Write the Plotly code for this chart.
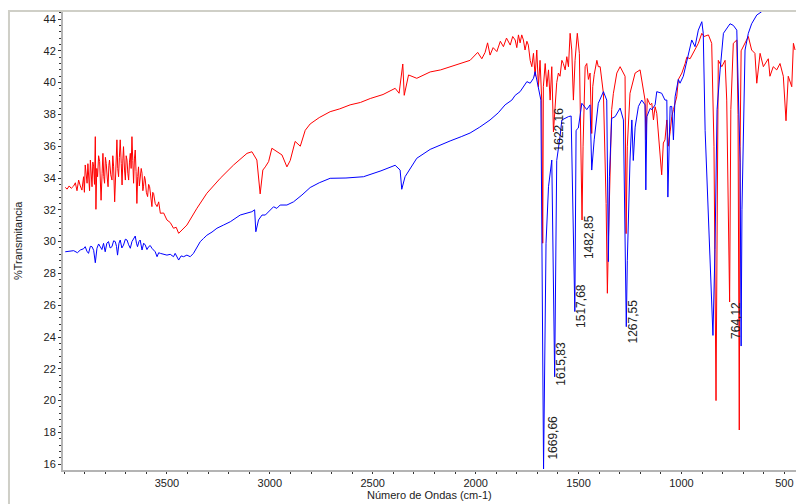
import plotly.graph_objects as go

# ---------------- data ----------------
red_wn = [3994, 3985, 3975, 3965, 3953, 3945, 3937, 3929, 3921, 3913, 3905, 3901, 3897, 3892, 3888, 3884,
          3881, 3876, 3872, 3868, 3864, 3860, 3856, 3852, 3848, 3845, 3841, 3837, 3832, 3827, 3820, 3815,
          3811, 3807, 3803, 3799, 3795, 3790, 3786, 3782, 3779, 3773, 3767, 3763, 3759, 3754, 3748, 3743,
          3739, 3735, 3731, 3727, 3722, 3718, 3714, 3711, 3706, 3702, 3698, 3694, 3690, 3686, 3682, 3678,
          3674, 3670, 3666, 3662, 3658, 3654, 3650, 3646, 3642, 3638, 3634, 3630, 3625, 3621, 3617, 3614,
          3609, 3605, 3600, 3594, 3589, 3584, 3578, 3573, 3569, 3565, 3557, 3548, 3540, 3532, 3516, 3500,
          3484, 3468, 3455, 3443, 3403, 3354, 3306, 3241, 3176, 3111, 3087, 3063, 3047, 3034, 3022, 3006,
          2990, 2966, 2941, 2917, 2901, 2877, 2852, 2828, 2804, 2760, 2707, 2660, 2610, 2560, 2512, 2450,
          2391, 2372, 2354, 2347, 2326, 2286, 2221, 2170, 2124, 2070, 2027, 1990, 1970, 1954, 1942, 1930,
          1915, 1897, 1880, 1865, 1850, 1832, 1820, 1808, 1800, 1792, 1784, 1776, 1768, 1760, 1751, 1744,
          1735, 1727, 1719, 1711, 1703, 1695, 1687, 1679, 1674, 1671, 1662, 1654, 1646, 1638, 1630, 1622,
          1614, 1606, 1598, 1590, 1581, 1574, 1565, 1557, 1549, 1541, 1533, 1525, 1517, 1506, 1496, 1488,
          1483, 1478, 1473, 1468, 1460, 1452, 1444, 1436, 1431, 1424, 1411, 1404, 1395, 1379, 1366, 1360,
          1355, 1347, 1339, 1331, 1314, 1298, 1282, 1274, 1269, 1263, 1250, 1241, 1225, 1201, 1177, 1172,
          1166, 1152, 1144, 1136, 1128, 1120, 1112, 1104, 1096, 1088, 1080, 1071, 1064, 1055, 1047, 1039,
          1023, 1015, 998, 982, 974, 958, 934, 918, 901, 890, 869, 853, 842, 832, 825, 821,
          804, 788, 780, 766, 760, 748, 731, 725, 719, 715, 710, 691, 675, 659, 643, 634,
          618, 602, 578, 570, 554, 537, 521, 505, 492, 481, 464, 456, 448]
red_t = [33.41, 33.30, 33.50, 33.35, 33.50, 33.70, 33.20, 33.87, 33.50, 33.24, 34.08, 33.10, 34.82, 33.90, 33.67, 34.90,
         34.40, 33.20, 35.13, 34.20, 33.45, 35.00, 34.70, 33.60, 36.60, 32.03, 34.60, 34.08, 35.40, 35.03, 32.60, 34.30,
         35.55, 34.10, 33.67, 35.30, 34.92, 34.00, 33.45, 34.80, 35.13, 34.20, 33.87, 35.40, 34.70, 32.50, 35.00, 36.40,
         34.60, 34.08, 35.30, 36.40, 34.90, 33.56, 35.20, 35.97, 34.50, 33.87, 35.40, 35.13, 34.30, 33.87, 35.00, 35.55,
         34.60, 36.60, 35.10, 33.67, 35.20, 35.76, 34.40, 32.40, 34.10, 34.70, 33.50, 33.87, 34.60, 34.30, 33.20, 33.45,
         34.10, 33.87, 33.10, 32.83, 33.60, 33.45, 32.70, 32.20, 33.10, 33.04, 32.40, 32.20, 32.50, 31.78, 31.80, 31.36,
         31.20, 30.84, 30.90, 30.52, 31.04, 32.10, 33.04, 33.98, 34.82, 35.55, 35.65, 35.13, 33.00, 34.50, 34.70, 35.03,
         35.87, 35.65, 35.45, 34.70, 35.10, 36.30, 36.00, 37.00, 37.40, 37.80, 38.17, 38.35, 38.60, 38.75, 39.00, 39.25,
         39.64, 39.33, 41.17, 39.20, 40.48, 40.27, 40.67, 40.80, 40.98, 41.20, 41.40, 41.90, 41.50, 41.90, 42.50, 41.73,
         42.20, 41.95, 42.60, 42.26, 42.80, 42.36, 42.90, 42.68, 42.20, 43.00, 42.50, 43.00, 42.68, 42.05, 42.60, 42.36,
         41.40, 41.00, 41.84, 40.40, 42.05, 39.74, 41.40, 38.90, 29.90, 39.74, 41.20, 39.74, 40.80, 38.90, 41.00, 36.90,
         38.70, 40.00, 40.60, 40.40, 41.40, 41.20, 40.80, 41.63, 41.00, 43.10, 42.05, 38.90, 41.40, 43.10, 41.84, 35.00,
         31.36, 36.00, 38.70, 41.00, 41.20, 40.20, 40.60, 36.80, 39.74, 40.50, 41.40, 41.00, 41.00, 39.30, 32.40, 26.75,
         30.00, 35.10, 38.30, 39.30, 40.60, 41.00, 40.60, 40.40, 30.50, 36.00, 39.33, 39.74, 40.60, 40.80, 38.90, 36.40,
         39.00, 38.60, 38.70, 37.65, 38.48, 38.07, 36.80, 35.55, 34.20, 36.20, 36.40, 37.65, 36.00, 36.90, 37.86, 38.30,
         39.10, 40.20, 40.60, 41.20, 41.60, 41.50, 42.05, 42.47, 43.10, 42.90, 43.00, 42.47, 36.00, 20.00, 34.00, 41.40,
         41.00, 41.40, 38.90, 26.20, 38.30, 42.47, 42.68, 38.00, 18.15, 36.00, 42.00, 42.47, 42.90, 42.05, 41.84, 39.96,
         41.84, 41.00, 41.50, 40.40, 41.00, 40.80, 41.20, 40.40, 37.60, 40.40, 39.74, 42.47, 42.05]

blue_wn = [3994, 3970, 3953, 3935, 3921, 3905, 3897, 3889, 3881, 3872, 3864, 3856, 3848, 3840, 3832, 3824,
           3816, 3808, 3800, 3792, 3784, 3776, 3767, 3759, 3751, 3745, 3740, 3733, 3727, 3719, 3711, 3702,
           3694, 3686, 3678, 3670, 3662, 3654, 3648, 3643, 3636, 3630, 3621, 3613, 3605, 3597, 3589, 3581,
           3573, 3565, 3557, 3548, 3540, 3532, 3516, 3500, 3484, 3468, 3460, 3450, 3443, 3431, 3419, 3403,
           3387, 3371, 3354, 3338, 3322, 3306, 3281, 3257, 3225, 3192, 3144, 3087, 3074, 3068, 3055, 3038,
           3022, 3006, 2982, 2966, 2950, 2917, 2885, 2844, 2804, 2760, 2707, 2630, 2545, 2460, 2391, 2367,
           2359, 2343, 2286, 2221, 2170, 2124, 2070, 2027, 1980, 1930, 1890, 1857, 1824, 1808, 1784, 1768,
           1751, 1735, 1719, 1711, 1683, 1670, 1658, 1646, 1630, 1616, 1606, 1590, 1581, 1549, 1536, 1518,
           1512, 1501, 1484, 1460, 1444, 1436, 1424, 1404, 1379, 1363, 1355, 1350, 1339, 1322, 1298, 1282,
           1268, 1263, 1250, 1241, 1234, 1225, 1209, 1193, 1177, 1173, 1168, 1152, 1144, 1128, 1120, 1096,
           1080, 1071, 1066, 1055, 1047, 1039, 1031, 1015, 1007, 991, 974, 950, 934, 918, 901, 894,
           885, 871, 853, 847, 837, 827, 812, 796, 764, 748, 731, 715, 710, 706, 691, 675,
           659, 634, 610, 578, 540, 500, 450]
blue_t = [29.36, 29.40, 29.43, 29.30, 29.47, 29.55, 29.68, 29.40, 29.26, 29.70, 29.68, 29.45, 28.67, 29.58, 29.85, 29.68,
          29.50, 29.89, 29.36, 29.90, 30.00, 29.60, 29.68, 30.05, 30.00, 29.70, 29.15, 29.90, 30.10, 29.60, 29.78, 30.15,
          30.10, 29.80, 29.58, 30.00, 30.20, 30.35, 29.90, 29.68, 30.00, 30.10, 29.47, 29.90, 29.78, 29.50, 29.68, 29.75,
          29.58, 29.50, 29.36, 29.05, 29.30, 29.26, 29.20, 29.15, 29.20, 29.05, 29.26, 29.00, 28.84, 29.10, 29.05, 29.15,
          29.05, 29.26, 29.68, 30.00, 30.20, 30.40, 30.60, 30.84, 31.04, 31.25, 31.67, 31.88, 32.00, 30.62, 31.36, 31.67,
          31.67, 31.88, 32.19, 32.09, 32.30, 32.30, 32.50, 32.93, 33.40, 33.70, 33.98, 34.00, 34.08, 34.45, 34.80, 34.50,
          33.29, 34.08, 35.24, 35.80, 36.10, 36.33, 36.60, 36.83, 37.20, 37.65, 38.10, 38.60, 38.90, 39.20, 39.43, 39.74,
          40.06, 39.96, 40.27, 40.69, 38.90, 15.70, 29.90, 33.45, 35.13, 21.50, 35.10, 36.60, 37.65, 37.86, 37.90, 25.60,
          37.00, 37.14, 38.70, 38.30, 38.60, 34.50, 36.40, 38.70, 39.43, 38.90, 28.74, 34.08, 37.75, 37.86, 38.40, 37.65,
          24.65, 28.80, 35.13, 37.65, 35.10, 37.20, 38.50, 38.90, 38.60, 33.25, 37.86, 38.38, 38.30, 38.60, 39.43, 39.33,
          38.90, 38.90, 32.80, 38.50, 38.50, 36.40, 39.10, 40.20, 39.96, 40.40, 41.40, 42.68, 42.26, 43.30, 43.83, 43.10,
          37.00, 32.60, 26.30, 24.10, 29.50, 38.30, 40.80, 43.10, 43.70, 43.60, 43.30, 35.00, 23.43, 32.00, 42.05, 43.10,
          43.70, 44.25, 44.46, 44.90, 45.30, 45.60, 45.80]

peak_wn = [1669.66, 1622.16, 1615.83, 1517.68, 1482.85, 1267.55, 764.12]
peak_label_y = [17.65, 37.08, 22.30, 25.95, 30.29, 25.00, 25.07]
peak_xshift = [9, 6, 6, 6, 7, 7, 6]

x_ticks = [3500, 3000, 2500, 2000, 1500, 1000, 500]
y_ticks = list(range(16, 46, 2))

# ---------------- figure ----------------
FONT = "Liberation Sans, Arial, sans-serif"
fig = go.Figure()
fig.add_trace(go.Scatter(x=red_wn, y=red_t, mode="lines",
                         line=dict(color="#ff0000", width=1), showlegend=False))
fig.add_trace(go.Scatter(x=blue_wn, y=blue_t, mode="lines",
                         line=dict(color="#0000ff", width=1), showlegend=False))

annotations = []
for wn, ly, xs in zip(peak_wn, peak_label_y, peak_xshift):
    annotations.append(dict(x=wn, y=ly, xref="x", yref="y", xshift=xs,
                            text=f"{wn:.2f}".replace(".", ","), showarrow=False,
                            textangle=-90, font=dict(family=FONT, size=12, color="#222222"),
                            xanchor="center", yanchor="middle"))
annotations.append(dict(x=0.5, y=-0.0546, xref="paper", yref="paper",
                        text="Número de Ondas (cm-1)", showarrow=False,
                        font=dict(family=FONT, size=11, color="#222222"),
                        xanchor="center", yanchor="middle"))
annotations.append(dict(x=-0.0614, y=0.502, xref="paper", yref="paper",
                        text="%Transmitancia", showarrow=False, textangle=-90,
                        font=dict(family=FONT, size=11, color="#222222"),
                        xanchor="center", yanchor="middle"))

fig.update_layout(
    width=796, height=504,
    margin=dict(l=63, r=0, t=12, b=34),
    paper_bgcolor="white", plot_bgcolor="white",
    font=dict(family=FONT, size=11, color="#222222"),
    annotations=annotations,
    shapes=[dict(type="rect", xref="paper", yref="paper",
                 x0=-0.0737, x1=1.05, y0=-0.3, y1=1.0022,
                 line=dict(color="#cfcfc7", width=2), fillcolor="rgba(0,0,0,0)",
                 layer="below")],
)
fig.update_xaxes(range=[4005, 443.4], tickvals=x_ticks, showgrid=False, zeroline=False,
                 showline=True, linecolor="#b4b4b4", linewidth=2,
                 ticks="outside", ticklen=2, tickcolor="#333333", tickwidth=1,
                 tickfont=dict(family=FONT, size=11, color="#222222"),
                 minor=dict(dtick=100, tick0=0, ticks="outside", ticklen=2, tickcolor="#333333", showgrid=False))
fig.update_yaxes(range=[15.635, 44.44], tickvals=y_ticks, showgrid=False, zeroline=False,
                 showline=True, linecolor="#b4b4b4", linewidth=2,
                 ticks="outside", ticklen=3, tickcolor="#333333", tickwidth=1,
                 tickfont=dict(family=FONT, size=11, color="#222222"),
                 minor=dict(dtick=0.4, tick0=0, ticks="outside", ticklen=2, tickcolor="#333333", showgrid=False))

fig.write_html("out.html")
